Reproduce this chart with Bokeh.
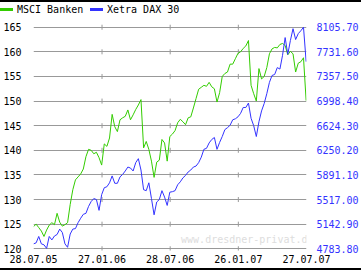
import numpy as np
import pandas as pd
from bokeh.plotting import figure
from bokeh.layouts import column
from bokeh.models import (Range1d, LinearAxis, FixedTicker, DatetimeTickFormatter,
                          Label, Div)
from bokeh.embed import file_html
from bokeh.resources import INLINE

# ---------------- data ----------------
DATES = pd.date_range("2005-07-28", periods=105, freq="7D")

msci = [124.5, 125.0, 124.3, 123.6, 122.5, 123.8, 124.8, 125.3, 124.9, 127.2,
        125.4, 124.6, 124.9, 125.3, 129.0, 132.0, 134.0, 134.6, 135.2, 136.2,
        138.7, 140.2, 140.0, 139.3, 139.6, 138.5, 137.0, 141.3, 140.8, 142.5,
        147.3, 144.8, 143.8, 146.2, 146.6, 146.9, 148.2, 146.2, 147.2, 148.3,
        149.2, 150.3, 140.5, 141.8, 140.2, 137.8, 134.5, 137.6, 138.0, 142.2,
        141.5, 137.8, 142.8, 143.3, 144.0, 145.6, 146.3, 145.8, 145.2, 146.6,
        146.8, 148.6, 150.5, 152.4, 152.8, 153.2, 153.0, 153.8, 152.9, 152.5,
        149.8, 151.7, 155.0, 155.6, 155.9, 157.5, 157.5, 158.6, 159.7, 160.0,
        160.7, 161.2, 162.3, 153.2, 151.5, 150.0, 156.6, 154.5, 155.0, 156.8,
        159.6, 160.6, 160.9, 160.8, 161.5, 161.7, 161.3, 159.4, 160.1, 159.6,
        155.9, 157.7, 158.0, 158.8, 150.1]

dax = [4857.6, 4872.4, 4968.4, 4857.6, 4842.9, 4790.0, 4968.4, 4916.7, 4975.7, 4997.9,
       5079.1, 5027.4, 4857.6, 4805.9, 5005.3, 5079.1, 5086.5, 5175.0, 5241.5, 5300.5,
       5315.3, 5418.7, 5492.5, 5536.8, 5522.0, 5359.6, 5595.8, 5699.2, 5713.9, 5773.0,
       5876.3, 5765.6, 5765.6, 5861.6, 5898.5, 5950.2, 6009.2, 5994.4, 5950.2, 6075.7,
       6134.7, 5964.9, 5669.6, 5654.9, 5773.0, 5536.8, 5293.2, 5485.1, 5522.0, 5654.9,
       5558.9, 5433.4, 5632.7, 5640.1, 5654.9, 5743.5, 5787.8, 5846.8, 5883.7, 5935.4,
       5964.9, 6009.2, 6024.0, 6075.7, 6156.9, 6275.0, 6289.7, 6370.9, 6422.6, 6452.1,
       6275.0, 6378.3, 6466.9, 6570.2, 6599.8, 6636.7, 6717.9, 6732.6, 6762.2, 6813.9,
       6902.4, 6902.4, 6968.9, 6740.0, 6629.3, 6466.9, 6688.4, 6850.8, 6961.5, 7109.1,
       7278.9, 7382.3, 7397.0, 7500.4, 7478.2, 7684.9, 7950.7, 7699.7, 7906.4, 8083.6,
       7921.2, 8009.7, 8054.0, 8105.7, 7589.0]

X_TICKS = ["2005-07-28", "2006-01-27", "2006-07-28", "2007-01-26", "2007-07-27"]
Y_TICKS = [120, 125, 130, 135, 140, 145, 150, 155, 160, 165]
DAX_LABELS = ["4783.80", "5142.90", "5517.00", "5891.10", "6250.20",
              "6624.30", "6998.40", "7357.50", "7731.60", "8105.70"]
SERIES_NAMES = ["MSCI Banken", "Xetra DAX 30"]
WATERMARK = "www.dresdner-privat.de"

GREEN = "#33cc00"
BLUE = "#3333ff"
GRID = "#999999"
FONT = "DejaVu Sans Mono"
FS = "10px"

W = 361
H_TOP = 22
H_MAIN = 246
H_BOT = 2

# ---------------- scales ----------------
Y_LO, Y_HI = 119.65, 165.96
DAX_LO, DAX_HI = float(DAX_LABELS[0]), float(DAX_LABELS[-1])
k = (DAX_HI - DAX_LO) / (Y_TICKS[-1] - Y_TICKS[0])

xt = pd.to_datetime(X_TICKS)

p = figure(width=W, height=H_MAIN, x_axis_type="datetime",
           x_range=Range1d(xt[0], xt[-1]), y_range=Range1d(Y_LO, Y_HI),
           toolbar_location=None, output_backend="svg",
           min_border_left=30, min_border_right=47, min_border_top=0, min_border_bottom=18,
           background_fill_color="white", border_fill_color="white",
           outline_line_color=None)
p.extra_y_ranges = {"dax": Range1d(DAX_LO + (Y_LO - Y_TICKS[0]) * k,
                                   DAX_LO + (Y_HI - Y_TICKS[0]) * k)}

# left axis
ya = p.yaxis[0]
ya.ticker = FixedTicker(ticks=Y_TICKS)
ya.axis_line_color = None
ya.major_tick_line_color = None
ya.minor_tick_line_color = None
ya.major_label_standoff = 6
ya.major_label_text_font = FONT
ya.major_label_text_font_size = FS
ya.major_label_text_color = "black"

# right axis (labelled in DAX points)
ra = LinearAxis(ticker=FixedTicker(ticks=Y_TICKS),
                major_label_overrides={t: s for t, s in zip(Y_TICKS, DAX_LABELS)})
ra.axis_line_color = None
ra.major_tick_line_color = None
ra.minor_tick_line_color = None
ra.major_label_standoff = 4
ra.major_label_text_font = FONT
ra.major_label_text_font_size = FS
ra.major_label_text_color = BLUE
p.add_layout(ra, "right")

# bottom axis
xa = p.xaxis[0]
xa.ticker = FixedTicker(ticks=[int(t.value // 10**6) for t in xt])
fmt = "%d.%m.%y"
xa.formatter = DatetimeTickFormatter(milliseconds=fmt, seconds=fmt, minsec=fmt, minutes=fmt,
                                     hourmin=fmt, hours=fmt, days=fmt, months=fmt, years=fmt)
xa.axis_line_color = None
xa.major_tick_line_color = None
xa.minor_tick_line_color = None
xa.major_label_standoff = -2
xa.major_label_text_font = FONT
xa.major_label_text_font_size = FS
xa.major_label_text_color = "black"

p.xgrid.visible = False
p.ygrid.grid_line_color = GRID
p.ygrid.grid_line_width = 1

# small tick crosses on the grid lines
cx, cy = [], []
for t in xt[1:-1]:
    for v in Y_TICKS:
        cx.append(t)
        cy.append(v)
p.scatter(cx, cy, marker="dash", angle=np.pi / 2, size=5, line_color=GRID, line_width=1)

# watermark text
p.add_layout(Label(x=313, y=239 - H_TOP, x_units="canvas", y_units="canvas", text=WATERMARK,
                   text_font=FONT, text_font_size=FS, text_color="#dddddd",
                   text_align="right", text_baseline="middle", level="underlay"))

# series
p.line(DATES, msci, line_color=GREEN, line_width=1)
p.line(DATES, dax, line_color=BLUE, line_width=1, y_range_name="dax")

# top strip: black bar + legend
legend_html = f"""
<div style="position:relative;width:{W}px;height:{H_TOP}px;background:white;
            font-family:'{FONT}';font-size:{FS};color:black;">
  <div style="position:absolute;left:0;top:0;width:{W}px;height:2px;background:black;"></div>
  <div style="position:absolute;left:0;top:8px;width:13px;height:3px;background:{GREEN};"></div>
  <div style="position:absolute;left:17px;top:4px;line-height:12px;white-space:nowrap;">{SERIES_NAMES[0]}</div>
  <div style="position:absolute;left:90px;top:8px;width:13px;height:3px;background:{BLUE};"></div>
  <div style="position:absolute;left:107px;top:4px;line-height:12px;white-space:nowrap;">{SERIES_NAMES[1]}</div>
</div>
"""
top = Div(text=legend_html, width=W, height=H_TOP, margin=0,
          styles={"width": f"{W}px", "height": f"{H_TOP}px", "overflow": "hidden"})
bottom = Div(text=f'<div style="width:{W}px;height:{H_BOT}px;background:black;"></div>',
             width=W, height=H_BOT, margin=0,
             styles={"background-color": "black", "width": f"{W}px", "height": f"{H_BOT}px",
                     "overflow": "hidden"})

layout = column(top, p, bottom, spacing=0)

open("out.html", "w").write(file_html(layout, INLINE))
